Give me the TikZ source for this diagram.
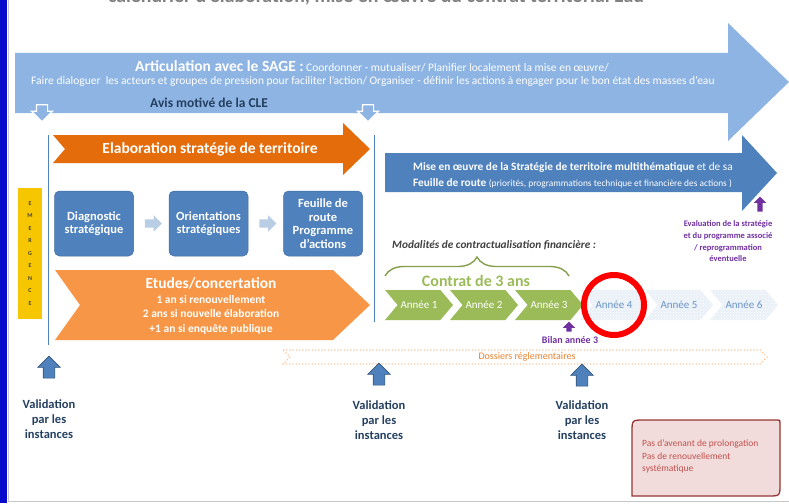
\documentclass[tikz,border=0pt]{standalone}
\usepackage{fontspec}
\setmainfont{Carlito}
\usepackage{tikz}
\usetikzlibrary{arrows.meta,positioning,calc,shapes.arrows,shapes.symbols,patterns,decorations.pathreplacing}
\definecolor{ctsky}{HTML}{8EB4E3}
\definecolor{ctblue}{HTML}{4F81BD}
\definecolor{ctorange}{HTML}{E46C0A}
\definecolor{ctpeach}{HTML}{F79646}
\definecolor{ctgreen}{HTML}{9BBB59}
\definecolor{ctpurple}{HTML}{7030A0}
\definecolor{ctnavy}{HTML}{243F60}
\definecolor{ctyellow}{HTML}{F6C700}
\definecolor{ctpale}{HTML}{B9CDE5}
\definecolor{ctnotefill}{HTML}{F2DCDB}
\definecolor{ctnotedraw}{HTML}{953735}
\definecolor{ctnotetext}{HTML}{C0504D}
\definecolor{ctframe}{HTML}{0A0ACD}
\newcommand{\ctfont}[2]{\fontsize{#1}{#2}\selectfont}
\tikzset{
  ctblock/.style={fill=ctblue, draw=ctblue!85!black, line width=0.5pt, rounded corners=5pt,
    text=white, align=center, font=\ctfont{12.5}{13.5}\bfseries,
    minimum width=79pt, minimum height=65pt, inner sep=2pt},
  ctstep/.style={single arrow, fill=ctpale, inner xsep=0pt, inner ysep=4pt,
    single arrow head extend=4pt, minimum height=17pt},
  ctup/.style={single arrow, rotate=90, fill=ctblue, draw=ctblue!65!black, line width=0.6pt,
    inner xsep=0pt, inner ysep=5.5pt, single arrow head extend=5.5pt, minimum height=22pt},
  ctdown/.style={single arrow, rotate=-90, fill=ctsky, draw=white, line width=1.2pt,
    inner xsep=0pt, inner ysep=5pt, single arrow head extend=5pt, minimum height=17pt},
  ctpurpleup/.style={single arrow, rotate=90, fill=ctpurple, inner xsep=0pt, inner ysep=2.5pt,
    single arrow head extend=3.5pt, minimum height=15pt},
  ctyear/.style={signal, signal from=west, signal to=east, signal pointer angle=100,
    fill=ctgreen, text=white, font=\ctfont{11}{12}, minimum width=68pt, minimum height=30pt,
    inner sep=0pt},
  ctyearoff/.style={ctyear, fill=none, preaction={fill=ctblue!12}, pattern=crosshatch dots,
    pattern color=white, text=ctblue!85},
  ctvalid/.style={font=\ctfont{12.5}{15}\bfseries, text=ctnavy, align=center},
  ctnote/.style={font=\ctfont{9.5}{12.2}, text=ctnotetext, align=left, inner sep=0pt}
}

\begin{document}
\begin{tikzpicture}[x=1pt, y=-1pt, every node/.style={font=\ctfont{11.5}{13}}]
  \useasboundingbox (0,0) rectangle (789,503);
  \clip (0,0) rectangle (789,503);
  % frame
  \fill[ctframe] (0,0) rectangle (7,503);
  \draw[black!22, line width=1pt] (8.5,0) -- (8.5,501.5) -- (789,501.5);
  \node[anchor=base, font=\ctfont{19.8}{21}\bfseries, text=black!50] (title) at (376,2.5)
    {calendrier d'élaboration, mise en œuvre du contrat territorial Eau};

  % bandeau SAGE
  \fill[ctsky] (15,53) -- (728,53) -- (728,23) -- (789,82) -- (728,141) -- (728,113)
    -- (15,113) -- cycle;
  \node[anchor=base west, text=white, inner sep=0pt] (sage) at (135,71)
    {{\ctfont{15.5}{16}\bfseries Articulation avec le SAGE :} Coordonner - mutualiser/ Planifier localement la mise en œuvre/};
  \node[anchor=base west, text=white, inner sep=0pt] (sage2) at (31,84)
    {Faire dialoguer \ les acteurs et groupes de pression pour faciliter l'action/ Organiser - définir les actions à engager pour le bon état des masses d'eau};
  \node[anchor=base west, text=ctnavy, font=\ctfont{13.5}{14}\bfseries, inner sep=0pt] (avis)
    at (150,107) {Avis motivé de la CLE};
  \node[ctdown] (down1) at (42,110.5) {};
  \node[ctdown] (down2) at (368,110.5) {};

  % phases
  \draw[ctblue, line width=0.8pt] (48,135) -- (48,345);
  \draw[ctblue, line width=0.8pt] (374,135) -- (374,322);
  \fill[ctorange] (53,135) -- (343,135) -- (343,123) -- (370,149) -- (343,175) -- (343,163)
    -- (53,163) -- (65,149) -- cycle;
  \node[text=white, font=\ctfont{15.5}{16}\bfseries] (elab) at (210,149)
    {Elaboration stratégie de territoire};
  \node[fill=ctyellow, minimum width=24pt, minimum height=131pt, inner sep=0pt,
    font=\ctfont{6}{12.5}\bfseries, text=black!75, align=center] (emerg) at (30,253.5)
    {E\\M\\E\\R\\G\\E\\N\\C\\E};
  \node[ctblock] (diag) at (94,223.5) {Diagnostic\\stratégique};
  \node[ctblock] (orient) at (208.5,223.5) {Orientations\\stratégiques};
  \node[ctblock] (feuille) at (323,223.5) {Feuille de\\route\\Programme\\d'actions};
  \node[ctstep] (step1) at ($(diag.east)!0.5!(orient.west)$) {};
  \node[ctstep] (step2) at ($(orient.east)!0.5!(feuille.west)$) {};
  \fill[ctpeach] (55,270) -- (333,270) -- (370,305) -- (333,340) -- (55,340) -- (80,305) -- cycle;
  \node[text=white, align=center, font=\ctfont{11.5}{14.5}\bfseries] (etudes) at (211,306)
    {{\ctfont{15.5}{17}\selectfont Etudes/concertation}\\1 an si renouvellement\\2 ans si nouvelle élaboration\\+1 an si enquête publique};

  % mise en oeuvre
  \fill[ctblue] (385,153) -- (742,153) -- (742,135) -- (777,173) -- (742,211) -- (742,192)
    -- (385,192) -- cycle;
  \node[anchor=base west, text=white, inner sep=0pt, font=\ctfont{11.3}{13}] (mise) at (413,170)
    {\textbf{Mise en œuvre de la Stratégie de territoire multithématique} et de sa};
  \node[anchor=base west, text=white, inner sep=0pt, font=\ctfont{11.3}{13}] (mise2) at (413,186)
    {\textbf{Feuille de route} {\ctfont{9.4}{10}(priorités, programmations technique et financière des actions )}};
  \node[ctpurpleup] (evalup) at (760,205.5) {};
  \node[font=\ctfont{8.5}{11.8}\bfseries, text=ctpurple, align=center, anchor=north] (eval)
    at (728,217) {Evaluation de la stratégie\\et du programme associé\\/ reprogrammation\\éventuelle};

  % contrat
  \node[anchor=base west, inner sep=0pt, text=black!75, font=\ctfont{11.3}{12}\bfseries\itshape]
    (modal) at (392,248) {Modalités de contractualisation financière :};
  \draw[ctgreen!85!black, line width=1.4pt, decorate, decoration={brace, amplitude=19pt}]
    (385,276) -- (569,276);
  \node[text=ctgreen, font=\ctfont{16}{17}\bfseries] (contrat) at (476,281) {Contrat de 3 ans};
  \node[ctyear] (y1) at (419,305) {Année 1};
  \node[ctyear] (y2) at (484,305) {Année 2};
  \node[ctyear] (y3) at (549,305) {Année 3};
  \node[ctyearoff] (y4) at (614,305) {Année 4};
  \node[ctyearoff] (y5) at (679,305) {Année 5};
  \node[ctyearoff] (y6) at (744,305) {Année 6};
  \node[circle, draw=red, line width=6pt, minimum size=60pt, inner sep=0pt] (ring) at (y4) {};
  \node[ctpurpleup, minimum height=10pt] (bilanup) at (569,328) {};
  \node[text=ctpurple, font=\ctfont{10}{11}\bfseries] (bilan) at (570,340) {Bilan année 3};

  % dossiers
  \draw[ctpeach!55, dotted, line width=1.2pt, fill=white] (283,350) -- (760,350) -- (767,357)
    -- (760,364) -- (283,364) -- (290,357) -- cycle;
  \node[text=ctorange!85, font=\ctfont{10}{11}] (doss) at (527,357) {Dossiers réglementaires};

  % validations
  \node[ctup] (up1) at (49,370) {};
  \node[ctup] (up2) at (379,377) {};
  \node[ctup] (up3) at (582,378) {};
  \node[ctvalid, anchor=north] (val1) at (49,396) {Validation\\par les\\instances};
  \node[ctvalid, anchor=north] (val2) at (379,397) {Validation\\par les\\instances};
  \node[ctvalid, anchor=north] (val3) at (582,397) {Validation\\par les\\instances};

  % note
  \draw[fill=ctnotefill, draw=ctnotedraw, line width=1.3pt]
    (632,496) -- (632,432) .. controls (632,420) .. (644,420) -- (777,420)
    .. controls (780,420) .. (780,423) -- (780,484) .. controls (780,496) .. (768,496) -- cycle;
  \node[ctnote, anchor=north west] (note) at (642,440)
    {Pas d'avenant de prolongation\\Pas de renouvellement\\systématique};
\end{tikzpicture}
\end{document}
